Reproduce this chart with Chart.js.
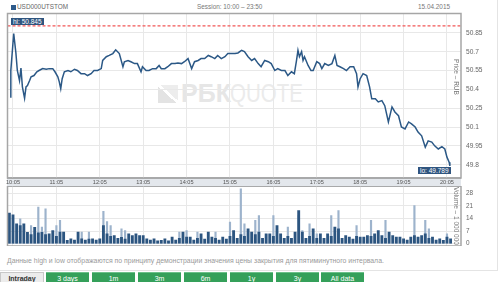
<!DOCTYPE html>
<html>
<head>
<meta charset="utf-8">
<script src="https://cdn.jsdelivr.net/npm/chart.js@4"></script>
<style>
body { margin: 0; width: 500px; height: 282px; overflow: hidden; background: #fff; position: relative; font-family: "Liberation Sans", Arial, sans-serif; }
.abs { position: absolute; }
#frame { left: 0; top: 0; width: 497px; height: 270px; border-right: 1px solid #e4e4e4; border-bottom: 1px solid #e4e4e4; }
#ticker { left: 17px; top: 3px; font-size: 6.4px; color: #666; }
#tickerBox { left: 11px; top: 4.5px; width: 5px; height: 5px; background: #2d5a8a; }
#session { left: 197px; top: 3px; font-size: 6.4px; color: #777; }
#date { left: 418px; top: 3px; font-size: 6.4px; color: #777; }
#band { left: 7px; top: 177px; width: 454px; height: 7px; background: #e3e7ec; border-top: 2px solid #aeb2b7; border-bottom: 1px solid #aeb2b7; }
#mark { left: 158px; top: 82px; height: 24px; color: #e6e6e6; white-space: nowrap; }
#markLogo { left: 0; top: 3px; width: 20px; height: 18px; background: linear-gradient(to top right, #e3e3e3 46%, #fff 46%, #fff 56%, #ededed 56%); }
#markBk { left: 23px; top: -3px; font-size: 25px; font-weight: bold; }
#markQ { left: 72px; top: -3px; font-size: 25px; color: #ebebeb; transform: scaleX(0.82); transform-origin: left; }
.tag { background: #2f557f; color: #fff; font-size: 6.5px; line-height: 7px; padding: 0 2px; }
#hi { left: 11px; top: 18px; }
#lo { left: 418px; top: 166.5px; }
#note { left: 7px; top: 257px; font-size: 6.9px; color: #9a9a9a; white-space: nowrap; }
.btn { top: 272px; height: 12px; width: 43px; text-align: center; font-size: 7px; line-height: 12px; color: #fff; background: #35a05a; border-top: 1px solid #6cc08a; }
#intraday { left: 0; background: #ececec; color: #333; font-weight: bold; border: 1px solid #c8c8c8; width: 42px; }
canvas { position: absolute; left: 0; }
</style>
</head>
<body>
<div id="frame" class="abs"></div>
<div id="tickerBox" class="abs"></div>
<div id="ticker" class="abs">USD000UTSTOM</div>
<div id="session" class="abs">Session: 10:00 – 23:50</div>
<div id="date" class="abs">15.04.2015</div>
<div id="mark" class="abs">
  <div id="markLogo" class="abs"></div>
  <div id="markBk" class="abs">РБК</div>
  <div id="markQ" class="abs">QUOTE</div>
</div>
<div id="band" class="abs"></div>
<canvas id="priceChart" width="500" height="186" style="top:0"></canvas>
<canvas id="volumeChart" width="500" height="60" style="top:186px"></canvas>
<div id="hi" class="abs tag">hi: 50.845</div>
<div id="lo" class="abs tag">lo: 49.789</div>
<div id="note" class="abs">Данные high и low отображаются по принципу демонстрации значения цены закрытия для пятиминутного интервала.</div>
<div id="intraday" class="abs btn">Intraday</div>
<div class="abs btn" style="left:46px">3 days</div>
<div class="abs btn" style="left:92px">1m</div>
<div class="abs btn" style="left:138px">3m</div>
<div class="abs btn" style="left:184px">6m</div>
<div class="abs btn" style="left:230px">1y</div>
<div class="abs btn" style="left:276px">3y</div>
<div class="abs btn" style="left:321px">All data</div>
<script>
// minutes after 10:00
const priceTimes = [
  1, 2, 6, 9, 11, 14, 16, 18, 21, 23, 25, 28, 30, 34, 38, 41, 46, 51, 55, 60,
  63, 67, 69, 71, 73, 76, 81, 85, 90, 94, 99, 104, 108, 113, 117, 122, 127, 129, 134, 138,
  143, 147, 152, 157, 159, 164, 168, 173, 177, 182, 184, 189, 193, 198, 203, 207, 210, 215, 219, 224,
  229, 233, 238, 242, 247, 252, 256, 261, 265, 270, 275, 279, 284, 288, 293, 298, 302, 307, 312, 316,
  321, 325, 330, 335, 339, 344, 348, 353, 358, 362, 367, 371, 376, 381, 385, 390, 394, 397, 399, 401,
  404, 406, 408, 413, 417, 420, 425, 429, 432, 436, 441, 446, 450, 453, 457, 462, 466, 471, 476, 480,
  482, 485, 489, 494, 498, 501, 506, 510, 515, 519, 524, 529, 533, 538, 542, 547, 552, 556, 561, 565,
  570, 575, 579, 584, 588, 593, 598, 602, 605, 608, 609
];
const priceValues = [
  50.34, 50.55, 50.845, 50.69, 50.55, 50.47, 50.57, 50.42, 50.33, 50.42,
  50.43, 50.47, 50.50, 50.51, 50.54, 50.55, 50.565, 50.56, 50.565, 50.565,
  50.54, 50.50, 50.46, 50.405, 50.485, 50.54, 50.55, 50.54, 50.56, 50.55,
  50.525, 50.525, 50.51, 50.525, 50.55, 50.55, 50.565, 50.63, 50.66, 50.67,
  50.685, 50.715, 50.685, 50.58, 50.62, 50.63, 50.62, 50.605, 50.605, 50.54,
  50.58, 50.55, 50.55, 50.565, 50.565, 50.59, 50.565, 50.565, 50.58, 50.605,
  50.605, 50.61, 50.605, 50.62, 50.645, 50.565, 50.62, 50.63, 50.645, 50.645,
  50.67, 50.66, 50.645, 50.67, 50.645, 50.66, 50.685, 50.685, 50.685, 50.69,
  50.71, 50.70, 50.66, 50.63, 50.645, 50.605, 50.58, 50.63, 50.62, 50.605,
  50.55, 50.565, 50.55, 50.55, 50.51, 50.54, 50.525, 50.63, 50.71, 50.66,
  50.70, 50.63, 50.66, 50.59, 50.55, 50.55, 50.62, 50.605, 50.565, 50.605,
  50.59, 50.605, 50.67, 50.59, 50.58, 50.565, 50.55, 50.58, 50.58, 50.525,
  50.42, 50.485, 50.525, 50.51, 50.42, 50.325, 50.325, 50.30, 50.31, 50.27,
  50.14, 50.26, 50.22, 50.19, 50.10, 50.085, 50.14, 50.125, 50.10, 50.06,
  50.03, 49.94, 49.99, 49.98, 49.95, 49.925, 49.944, 49.925, 49.86, 49.82,
  49.79
];
const prevClose = 50.905;
const priceTicks = [49.8, 49.95, 50.1, 50.25, 50.4, 50.55, 50.7, 50.85];
const hourLabels = ['10:05', '11:05', '12:05', '13:05', '14:05', '15:05', '16:05', '17:05', '18:05', '19:05', '20:05'];

// five-minute volume, millions, from 10:00
const volDark = [
  17, 16, 11, 10, 11, 6.3, 5, 9, 6, 6.3,
  5, 5.5, 7.3, 4, 6.4, 6.4, 1.8, 2.7, 2, 6.4,
  2.7, 2, 2.5, 2.7, 2, 2.7, 10, 5.5, 4, 4.5,
  3, 3.5, 2.5, 5.5, 4.5, 5.5, 4.5, 4.5, 2.7, 2,
  2.7, 1.5, 1.8, 2.7, 1.5, 3.6, 2, 3, 6.4, 3.6,
  3.6, 2, 3, 5.5, 2.5, 6.4, 3.6, 3, 2, 3.6,
  2.5, 4, 7.3, 3, 5, 4, 8.2, 6.4, 5, 6.4,
  3, 5.5, 5.5, 4, 10.1, 5.5, 3, 4, 3, 6.4,
  18.4, 6.4, 3, 4, 8.2, 3, 5.5, 3, 5.5, 4,
  9.2, 8.2, 3, 4.5, 3.6, 2.5, 4, 3.6, 3.6, 4.5,
  4, 5.5, 7.3, 4.5, 3, 6.4, 4.5, 3.6, 3.6, 2.7,
  2, 3.6, 4.5, 3.6, 4.5, 5.5, 3, 3.6, 2, 2.7,
  1.8, 3.6, 2.7
];
const volLight = [
  0, 0, 0, 13.8, 0, 0, 10, 0, 20.3, 9.2,
  19.3, 0, 0, 10.1, 12.9, 0, 0, 0, 0, 0,
  6.4, 0, 6.4, 0, 0, 0, 17.9, 12.3, 10.1, 0,
  0, 8.2, 7.3, 0, 0, 0, 0, 0, 0, 0,
  0, 0, 0, 0, 0, 0, 0, 6.4, 0, 7.3,
  0, 0, 6.4, 0, 0, 0, 0, 6.4, 0, 0,
  0, 12, 0, 0, 30.4, 11, 0, 0, 12.9, 15.6,
  0, 0, 0, 15.6, 0, 0, 0, 9.2, 0, 0,
  15.6, 7.3, 0, 11, 0, 5.5, 0, 0, 0, 15.6,
  0, 18.4, 0, 0, 0, 0, 10.1, 0, 0, 0,
  12.9, 0, 0, 0, 12.9, 0, 0, 0, 0, 0,
  0, 0, 21.2, 0, 0, 12.9, 8.2, 0, 0, 0,
  0, 5.5, 0
];
const volTicks = [0, 7, 14, 21, 28];

const xMin = -2.6;
const xMax = 624.4;

function toMinutes(s) {
  const parts = s.split(':').map(Number);
  return (parts[0] - 10) * 60 + parts[1];
}
function toLabel(m) {
  const h = 10 + Math.floor(m / 60);
  const mm = m % 60;
  return h + ':' + (mm < 10 ? '0' : '') + mm;
}
const hourTicks = hourLabels.map(toMinutes);

// fixed axis sizes, no label overflow padding
function fixSize(prop, size) {
  return s => {
    s[prop] = size;
    s.paddingTop = 0;
    s.paddingBottom = 0;
    s.paddingLeft = 0;
    s.paddingRight = 0;
  };
}

Chart.defaults.font.family = '"Liberation Sans", Arial, sans-serif';

const framePlugin = {
  id: 'frame',
  afterDatasetsDraw(chart) {
    const a = chart.chartArea;
    const ctx = chart.ctx;
    ctx.save();
    ctx.strokeStyle = '#a6a6a6';
    ctx.lineWidth = 1.5;
    ctx.strokeRect(a.left, a.top, a.right - a.left, a.bottom - a.top);
    ctx.restore();
  }
};

const sideTitle = {
  id: 'sideTitle',
  afterDraw(chart, args, opts) {
    const a = chart.chartArea;
    const ctx = chart.ctx;
    ctx.save();
    ctx.translate(a.right - 5.5, opts.y != null ? opts.y : (a.top + a.bottom) / 2);
    ctx.rotate(Math.PI / 2);
    ctx.font = '6.5px "Liberation Sans", Arial, sans-serif';
    ctx.fillStyle = '#777';
    ctx.textAlign = 'center';
    ctx.textBaseline = 'middle';
    ctx.fillText(opts.text, 0, 0);
    ctx.restore();
  }
};

const gridColor = '#e8e8e8';

new Chart(document.getElementById('priceChart'), {
  type: 'line',
  data: {
    datasets: [{
      data: priceTimes.map((t, i) => ({ x: t, y: priceValues[i] })),
      borderColor: '#2b5886',
      borderWidth: 1.5,
      pointRadius: 0,
      tension: 0
    }, {
      data: [{ x: xMin, y: prevClose }, { x: xMax, y: prevClose }],
      borderColor: '#f25757',
      borderWidth: 1.3,
      borderDash: [3, 2],
      pointRadius: 0
    }]
  },
  options: {
    responsive: false,
    animation: false,
    layout: { autoPadding: false, padding: { left: 7.5, top: 13.5, right: 0, bottom: 0 } },
    plugins: {
      legend: { display: false },
      tooltip: { enabled: false },
      sideTitle: { text: 'Price – RUB', y: 77 }
    },
    scales: {
      x: {
        type: 'linear',
        min: xMin,
        max: xMax,
        afterBuildTicks: s => { s.ticks = hourTicks.map(v => ({ value: v })); },
        afterFit: fixSize('height', 8),
        ticks: {
          callback: v => toLabel(v),
          font: { size: 5.6 },
          color: '#555',
          padding: 1,
          maxRotation: 0,
          autoSkip: false
        },
        grid: { color: gridColor, drawTicks: false },
        border: { display: false }
      },
      y: {
        position: 'right',
        min: 49.694,
        max: 51.004,
        afterBuildTicks: s => { s.ticks = priceTicks.map(v => ({ value: v })); },
        afterFit: fixSize('width', 39),
        ticks: {
          callback: v => String(+v.toFixed(2)),
          font: { size: 6.6 },
          color: '#666',
          padding: 5
        },
        grid: { color: gridColor, drawTicks: false },
        border: { display: false }
      }
    }
  },
  plugins: [framePlugin, sideTitle]
});

new Chart(document.getElementById('volumeChart'), {
  type: 'bar',
  data: {
    datasets: [{
      data: volDark.map((v, i) => ({ x: i * 5, y: v })),
      backgroundColor: '#2c5580',
      barThickness: 2.2,
      grouped: false,
      order: 1
    }, {
      data: volLight.map((v, i) => ({ x: i * 5, y: v })),
      backgroundColor: '#9db3cc',
      barThickness: 1.5,
      grouped: false,
      order: 2
    }]
  },
  options: {
    responsive: false,
    animation: false,
    layout: { autoPadding: false, padding: { left: 7.5, top: 0, right: 0, bottom: 0 } },
    plugins: {
      legend: { display: false },
      tooltip: { enabled: false },
      sideTitle: { text: 'Volume – 1 000 000' }
    },
    scales: {
      x: {
        type: 'linear',
        offset: false,
        min: xMin,
        max: xMax,
        afterBuildTicks: s => { s.ticks = hourTicks.map(v => ({ value: v })); },
        afterFit: fixSize('height', 0),
        ticks: { display: false },
        grid: { color: gridColor, drawTicks: false, offset: false },
        border: { display: false }
      },
      y: {
        position: 'right',
        min: -1.3,
        max: 32,
        afterBuildTicks: s => { s.ticks = volTicks.map(v => ({ value: v })); },
        afterFit: fixSize('width', 39),
        ticks: {
          font: { size: 6.4 },
          color: '#666',
          padding: 5
        },
        grid: { color: gridColor, drawTicks: false },
        border: { display: false }
      }
    }
  },
  plugins: [framePlugin, sideTitle]
});
</script>
</body>
</html>
